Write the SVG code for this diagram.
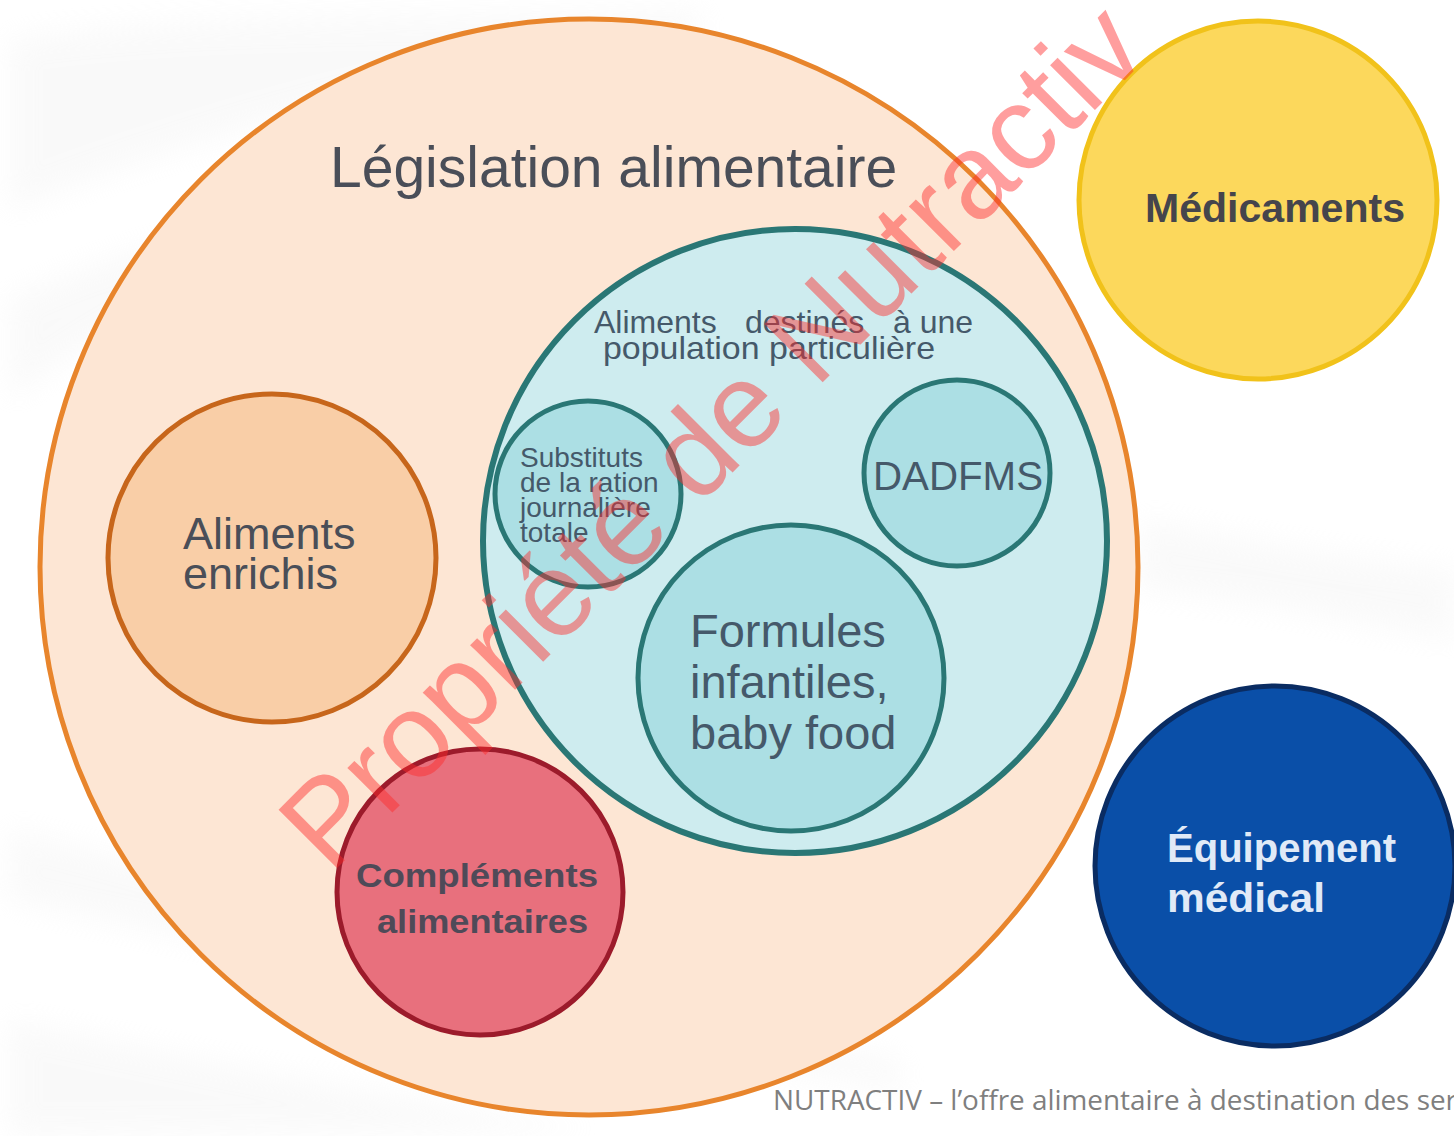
<svg xmlns="http://www.w3.org/2000/svg" width="1454" height="1136" viewBox="0 0 1454 1136">
  <style>
    .sans { font-family: "Liberation Sans", Arial, sans-serif; }
    .label { fill: #4a4e58; }
    .teal-label { fill: #45596a; }
    .heavy { font-family: "Liberation Sans", Arial, sans-serif; font-weight: bold; }
    .inner { fill: #acdfe4; stroke: #2a7775; stroke-width: 5; }
  </style>
  <defs>
    <filter id="soft" x="-20%" y="-20%" width="140%" height="140%">
      <feGaussianBlur stdDeviation="14"/>
    </filter>
  </defs>

  <!-- page background with faint grey sweeps -->
  <rect x="0" y="0" width="1454" height="1136" fill="#ffffff"/>
  <g fill="#eeeeee" opacity="0.3" filter="url(#soft)">
    <path d="M10 40 C 200 10, 500 20, 700 10 L 700 40 C 480 60, 240 120, 10 210 Z"/>
    <path d="M10 300 C 120 250, 200 230, 300 220 L 300 250 C 200 280, 100 330, 10 400 Z"/>
    <path d="M10 830 C 300 900, 600 1000, 900 1060 L 900 1090 C 600 1040, 300 960, 10 900 Z"/>
    <path d="M10 1020 C 200 1060, 400 1100, 600 1130 L 10 1136 Z"/>
    <path d="M1140 520 C 1250 540, 1350 560, 1454 570 L 1454 640 C 1350 620, 1250 600, 1140 590 Z"/>
  </g>

  <!-- food legislation domain -->
  <g id="legislation">
    <ellipse cx="589" cy="567" rx="549" ry="548" fill="#fde6d4" stroke="#e8852c" stroke-width="5"/>
    <text class="sans label" x="330" y="187" font-size="57">Législation alimentaire</text>
  </g>

  <g id="aliments-enrichis">
    <circle cx="272" cy="558" r="164" fill="#f9cea7" stroke="#c7661b" stroke-width="5"/>
    <text class="sans label" font-size="45">
      <tspan x="183" y="549">Aliments</tspan>
      <tspan x="183" y="589">enrichis</tspan>
    </text>
  </g>

  <g id="population-particuliere">
    <circle cx="795" cy="541" r="312" fill="#ceecef" stroke="#2a7775" stroke-width="6"/>
    <text class="sans teal-label" font-size="32" y="333">
      <tspan x="594">Aliments</tspan>
      <tspan x="745">destinés</tspan>
      <tspan x="893">à une</tspan>
    </text>
    <text class="sans teal-label" font-size="32" x="603" y="359" textLength="332" lengthAdjust="spacingAndGlyphs">population particulière</text>
  </g>

  <g id="substituts">
    <circle class="inner" cx="588" cy="494" r="93"/>
    <text class="sans teal-label" font-size="28">
      <tspan x="520" y="467">Substituts</tspan>
      <tspan x="520" y="492">de la ration</tspan>
      <tspan x="520" y="517">journalière</tspan>
      <tspan x="520" y="542">totale</tspan>
    </text>
  </g>

  <g id="dadfms">
    <circle class="inner" cx="957" cy="473" r="93"/>
    <text class="sans teal-label" font-size="41" x="873" y="490" textLength="170" lengthAdjust="spacingAndGlyphs">DADFMS</text>
  </g>

  <g id="formules-infantiles">
    <circle class="inner" cx="791" cy="678" r="153"/>
    <text class="sans teal-label" font-size="47">
      <tspan x="690" y="647">Formules</tspan>
      <tspan x="690" y="698">infantiles,</tspan>
      <tspan x="690" y="749">baby food</tspan>
    </text>
  </g>

  <g id="complements">
    <circle cx="480" cy="892" r="143" fill="#e8707d" stroke="#9c1b2b" stroke-width="5"/>
    <text class="heavy" fill="#4f4a58" font-size="33">
      <tspan x="356" y="887" textLength="242" lengthAdjust="spacingAndGlyphs">Compléments</tspan>
      <tspan x="377" y="933" textLength="211" lengthAdjust="spacingAndGlyphs">alimentaires</tspan>
    </text>
  </g>

  <!-- domains outside food legislation -->
  <g id="medicaments">
    <circle cx="1258" cy="200" r="179" fill="#fcd85c" stroke="#f1c21a" stroke-width="5"/>
    <text class="heavy" fill="#45454c" font-size="40" x="1145" y="222" textLength="260" lengthAdjust="spacingAndGlyphs">Médicaments</text>
  </g>

  <g id="equipement">
    <circle cx="1275" cy="866" r="180" fill="#0a4fa8" stroke="#0a2c62" stroke-width="5"/>
    <text class="heavy" fill="#e0eaf7" font-size="41">
      <tspan x="1167" y="862" textLength="229" lengthAdjust="spacingAndGlyphs">Équipement</tspan>
      <tspan x="1167" y="912" textLength="158" lengthAdjust="spacingAndGlyphs">médical</tspan>
    </text>
  </g>

  <!-- footer line -->
  <text id="footer" font-family="'Open Sans', 'Liberation Sans', sans-serif" font-size="27" fill="#7f7f7f" x="773" y="1110" textLength="684" lengthAdjust="spacingAndGlyphs">NUTRACTIV – l’offre alimentaire à destination des ser</text>

  <!-- ownership watermark -->
  <text id="watermark" class="sans" font-size="120" fill="#ff2a2a" opacity="0.45" transform="translate(330 875) rotate(-45)" x="0" y="0">Propriété de Nutractiv</text>
</svg>
